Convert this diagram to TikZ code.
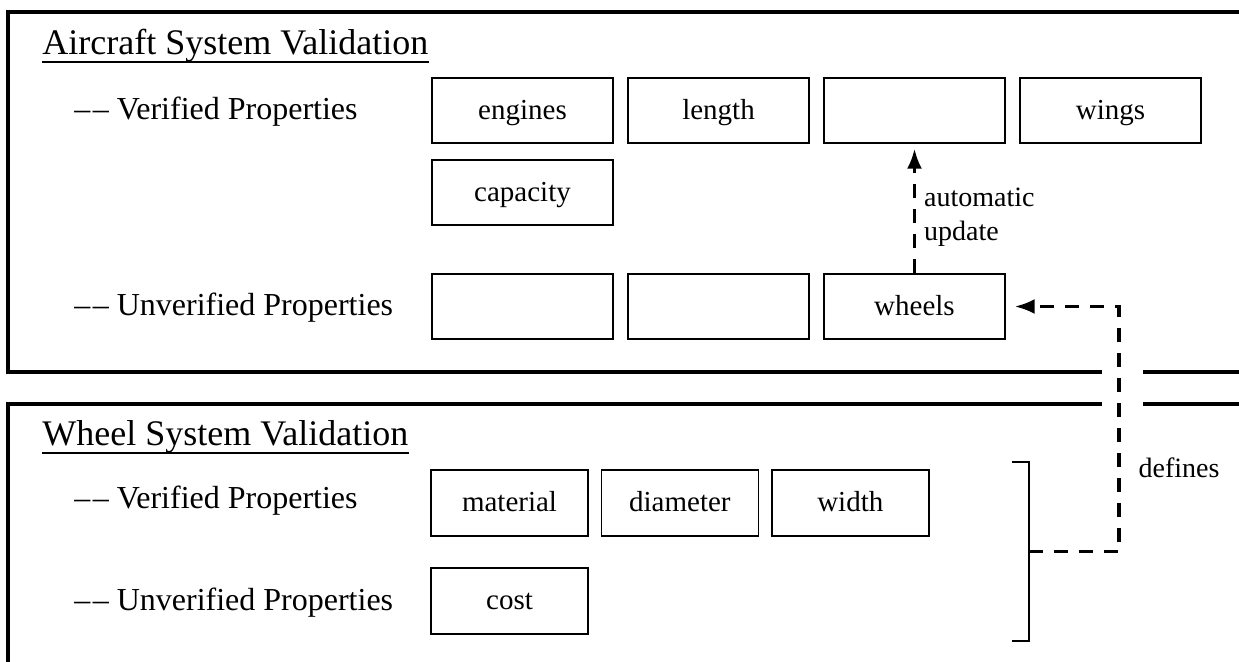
\documentclass[tikz,border=0pt]{standalone}
\usepackage{fontspec}
\setmainfont{Liberation Serif}
\usetikzlibrary{positioning, arrows.meta}

\begin{document}
\begin{tikzpicture}[x=0.5pt, y=-0.5pt, node distance=6.8pt]
  \tikzstyle{frame}=[draw, line width=1.6pt]
  \tikzstyle{heading}=[anchor=base west, inner sep=0pt, font=\fontsize{18}{21}\selectfont]
  \tikzstyle{group}=[anchor=base west, inner sep=0pt, font=\fontsize{16}{19}\selectfont]
  \tikzstyle{prop}=[rectangle, draw=black, line width=0.7pt, minimum width=90.5pt, minimum height=32.5pt, text height=10pt, text depth=1.5pt, text centered, font=\fontsize{14.5}{17}\selectfont]
  \tikzstyle{wprop}=[prop, minimum width=78.5pt, minimum height=33pt]
  \tikzstyle{note}=[font=\fontsize{14}{17}\selectfont, align=left, inner sep=0pt]
  \tikzstyle{arrow}=[draw, line width=1.6pt, dash pattern=on 7pt off 5.5pt, -{Latex[length=10pt, width=7.5pt]}]
  \tikzstyle{bracket}=[draw, line width=0.9pt]

  \useasboundingbox (0,0) rectangle (1239,661);
  \clip (0,0) rectangle (1239,661);

  % frames, open where the dashed line passes
  \draw [frame] (1102,372) -- (8,372) -- (8,12) -- (1260,12);
  \draw [frame] (1143,372) -- (1260,372);
  \draw [frame] (1102,404) -- (8,404) -- (8,680);
  \draw [frame] (1143,404) -- (1260,404);

  % aircraft system
  \node (acTitle) [heading] at (42,54) {Aircraft System Validation};
  \draw [line width=1pt] (acTitle.south west) -- (acTitle.south east);
  \node (acVer) [group] at (74,119) {\textendash\kern1.2pt\textendash\ Verified Properties};
  \node (acUnv) [group] at (74,315) {\textendash\kern1.2pt\textendash\ Unverified Properties};

  \node (engines) [prop] at (522.5,110.5) {engines};
  \node (length) [prop, right=of engines] {length};
  \node (blank) [prop, right=of length] {};
  \node (wings) [prop, right=of blank] {wings};
  \node (capacity) [prop, below=7.8pt of engines] {capacity};
  \node (unA) [prop] at (522.5,306.5) {};
  \node (unB) [prop, right=of unA] {};
  \node (wheels) [prop, right=of unB] {wheels};

  % wheel system
  \node (whTitle) [heading] at (42,445) {Wheel System Validation};
  \draw [line width=1pt] (whTitle.south west) -- (whTitle.south east);
  \node (whVer) [group] at (74,508) {\textendash\kern1.2pt\textendash\ Verified Properties};
  \node (whUnv) [group] at (74,610) {\textendash\kern1.2pt\textendash\ Unverified Properties};

  \node (material) [wprop] at (509.5,503) {material};
  \node (diameter) [wprop, right=6pt of material] {diameter};
  \node (width) [wprop, right=6pt of diameter] {width};
  \node (cost) [wprop, below=15.3pt of material] {cost};

  % bracket round the wheel properties
  \coordinate (brTop) at (1012,462);
  \coordinate (brBot) at (1012,641);
  \coordinate (brMid) at (1029,551.5);
  \coordinate (turn) at (1119,306.5);
  \draw [bracket] (brTop) -- (brTop -| brMid) -- (brBot -| brMid) -- (brBot);

  \draw [arrow, shorten >=2.5pt] (wheels.north) -- node [note, pos=0.43, right=4pt] {automatic\\update} (blank.south);
  \draw [arrow, shorten >=4.5pt] (brMid) -| node [note, pos=0.67, right=9pt] {defines} (turn) -- (wheels.east);
\end{tikzpicture}
\end{document}
